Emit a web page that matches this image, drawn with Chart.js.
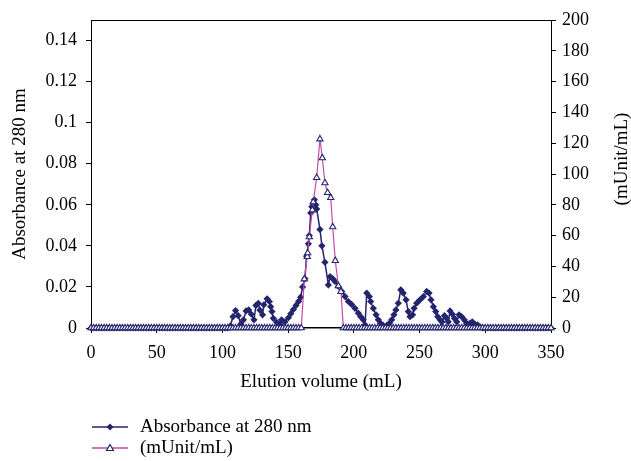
<!DOCTYPE html>
<html>
<head>
<meta charset="utf-8">
<script src="https://cdn.jsdelivr.net/npm/chart.js@4.4.1/dist/chart.umd.min.js"></script>
<style>
html, body { margin: 0; padding: 0; background: #fff; }
</style>
</head>
<body>
<canvas id="chart" width="631" height="461"></canvas>
<script>
// 흡광도 (280 nm) 시리즈
const absVolume = [
    0,2,4,6,8,10,12,14,16,18,20,22,24,26,28,30,32,34,36,38,40,42,44,46,48,50,52,54,56,58,60,62,64,66,68,70,72,74,76,78,80,82,84,86,88,90,92,94,96,98,100,102,104,
    106,108,110,112,114,116,118,120,122,124,125.5,127.3,128.5,130.5,131.5,134,135.7,136.7,137.7,138.7,141.3,143.8,145,147.6,
    150.2,152,154,156,158,159.5,161,162.8,164,165.4,166.1,167.2,168,169.2,170,171,171.7,174.2,175.7,178,180.6,181.9,183.9,185.7,188.2,190.8,
    193.3,195.8,198.3,200.9,203.4,205.2,207.2,208.5,209.8,211.8,212.8,214.8,216.9,218.6,220.4,222.4,225,227,228.8,230.5,232,233.8,235.7,237.6,239.7,
    241.4,242.7,244.7,245.8,247.8,250.3,252.9,255.4,257.2,258.7,260.5,262.3,263.8,265.6,267,268.9,270.6,271.8,273.2,275,276.5,278.3,280,282,284,285.8,288.3,290.1,292.2,294.2,296,
    298,300,302,304,306,308,310,312,314,316,318,320,322,324,326,328,330,332,334,336,338,340,342,344,346,348,350
];
const absValue = [
    0,0,0,0,0,0,0,0,0,0,0,0,0,0,0,0,0,0,0,0,0,0,0,0,0,0,0,0,0,0,0,0,0,0,0,0,0,0,0,0,0,0,0,0,0,0,0,0,0,0,0,0,0,
    0.001,0.0055,0.0085,0.006,0.002,0.004,0.0083,0.0088,0.0067,0.004,0.011,0.012,0.0087,0.0064,0.0113,0.0142,0.0129,0.0104,0.008,0.0047,0.0028,0.0018,0.004,0.003,
    0.005,0.007,0.009,0.011,0.013,0.015,0.02,0.024,0.035,0.041,0.045,0.056,0.059,0.061,0.0625,0.06,0.058,0.048,0.04,0.032,0.021,0.025,0.024,0.0227,0.0202,0.0178,
    0.0153,0.0129,0.0115,0.0096,0.0072,0.0055,0.004,0.0015,0.017,0.0153,0.0129,0.0096,0.0064,0.004,0.0023,0.0012,0.0012,0.0023,0.004,0.0064,0.0088,0.0121,0.0186,0.017,0.0137,
    0.008,0.0055,0.0064,0.0096,0.0121,0.0137,0.0153,0.0178,0.017,0.0137,0.0104,0.008,0.0055,0.004,0.003,0.006,0.0047,0.003,0.0083,0.0067,0.0047,0.003,0.0064,0.0055,0.004,0.0023,0.0023,0.003,0.0018,0.0015,0.0005,
    0,0,0,0,0,0,0,0,0,0,0,0,0,0,0,0,0,0,0,0,0,0,0,0,0,0,0
];

// 효소 활성 (mUnit/mL) 시리즈
const actVolume = [
    0,2,4,6,8,10,12,14,16,18,20,22,24,26,28,30,32,34,36,38,40,42,44,46,48,50,52,54,56,58,60,62,64,66,68,70,72,74,76,78,80,
    82,84,86,88,90,92,94,96,98,100,102,104,106,108,110,112,114,116,118,120,122,124,126,128,130,132,134,136,138,140,142,144,146,148,150,152,154,156,158,160,
    162.3,164.6,164.9,166.1,168.4,169.1,171.7,174.2,176,178,180,182.4,183.9,185.9,188.2,190.2,
    192,194,196,198,200,202,204,206,208,210,212,214,216,218,220,222,224,226,228,230,232,234,236,238,240,242,244,246,248,250,252,254,256,258,260,262,264,266,268,270,
    272,274,276,278,280,282,284,286,288,290,292,294,296,298,300,302,304,306,308,310,312,314,316,318,320,322,324,326,328,330,332,334,336,338,340,342,344,346,348,350
];
const actValue = [
    0,0,0,0,0,0,0,0,0,0,0,0,0,0,0,0,0,0,0,0,0,0,0,0,0,0,0,0,0,0,0,0,0,0,0,0,0,0,0,0,0,
    0,0,0,0,0,0,0,0,0,0,0,0,0,0,0,0,0,0,0,0,0,0,0,0,0,0,0,0,0,0,0,0,0,0,0,0,0,0,0,0,
    31.8,46.3,48.7,59.1,76.6,81.8,97.6,122.7,110.4,94.2,87.9,84.6,65.6,43.7,27.3,23.6,
    0,0,0,0,0,0,0,0,0,0,0,0,0,0,0,0,0,0,0,0,0,0,0,0,0,0,0,0,0,0,0,0,0,0,0,0,0,0,0,0,
    0,0,0,0,0,0,0,0,0,0,0,0,0,0,0,0,0,0,0,0,0,0,0,0,0,0,0,0,0,0,0,0,0,0,0,0,0,0,0,0
];

const xTicks = [0, 50, 100, 150, 200, 250, 300, 350];
const absTicks = [0, 0.02, 0.04, 0.06, 0.08, 0.1, 0.12, 0.14];
const actTicks = [0, 20, 40, 60, 80, 100, 120, 140, 160, 180, 200];

const LABELS = ['Absorbance at 280 nm', '(mUnit/mL)'];
const FONT = '"Liberation Serif", "DejaVu Serif", serif';
const NAVY = '#24246e';
const PINK = '#c84aa6';

function toPoints(xs, ys) {
    return xs.map((x, i) => ({ x: x, y: ys[i] }));
}

// 차트 테두리 위쪽 선 + 오른쪽 축 제목 + 범례
const decorPlugin = {
    id: 'decor',
    afterDraw(chart) {
        const ctx = chart.ctx;
        const a = chart.chartArea;
        ctx.save();
        ctx.strokeStyle = '#000';
        ctx.lineWidth = 1;
        ctx.beginPath();
        ctx.moveTo(a.left, a.top + 0.5);
        ctx.lineTo(a.right, a.top + 0.5);
        ctx.stroke();

        ctx.fillStyle = '#000';
        ctx.font = '19px ' + FONT;
        ctx.textAlign = 'center';
        ctx.textBaseline = 'middle';
        ctx.translate(622, 159);
        ctx.rotate(-Math.PI / 2);
        ctx.fillText(LABELS[1], 0, 0);
        ctx.restore();

        // 범례
        const rows = [
            { y: 427, color: NAVY, marker: 'diamond', text: LABELS[0] },
            { y: 448, color: PINK, marker: 'triangle', text: LABELS[1] }
        ];
        rows.forEach(r => {
            ctx.save();
            ctx.strokeStyle = r.color;
            ctx.lineWidth = 1.5;
            ctx.beginPath();
            ctx.moveTo(92, r.y);
            ctx.lineTo(128, r.y);
            ctx.stroke();
            const cx = 110, cy = r.y;
            if (r.marker === 'diamond') {
                ctx.fillStyle = NAVY;
                ctx.beginPath();
                ctx.moveTo(cx, cy - 3.5);
                ctx.lineTo(cx + 3.5, cy);
                ctx.lineTo(cx, cy + 3.5);
                ctx.lineTo(cx - 3.5, cy);
                ctx.closePath();
                ctx.fill();
            } else {
                ctx.fillStyle = '#fff';
                ctx.strokeStyle = NAVY;
                ctx.lineWidth = 1.2;
                ctx.beginPath();
                ctx.moveTo(cx, cy - 3.5);
                ctx.lineTo(cx + 3.5, cy + 2.5);
                ctx.lineTo(cx - 3.5, cy + 2.5);
                ctx.closePath();
                ctx.fill();
                ctx.stroke();
            }
            ctx.fillStyle = '#000';
            ctx.font = '19px ' + FONT;
            ctx.textAlign = 'left';
            ctx.textBaseline = 'middle';
            ctx.fillText(r.text, 140, r.y);
            ctx.restore();
        });
    }
};

const tickFont = { family: FONT, size: 18 };
const titleFont = { family: FONT, size: 19 };

new Chart(document.getElementById('chart'), {
    type: 'line',
    data: {
        datasets: [
            {
                label: LABELS[1],
                data: toPoints(actVolume, actValue),
                yAxisID: 'y1',
                borderColor: PINK,
                borderWidth: 1.2,
                pointStyle: 'triangle',
                pointRadius: 3.6,
                pointBorderWidth: 1.1,
                pointBackgroundColor: '#fff',
                pointBorderColor: NAVY,
                tension: 0,
                clip: false,
                order: 0
            },
            {
                label: LABELS[0],
                data: toPoints(absVolume, absValue),
                yAxisID: 'y',
                borderColor: NAVY,
                borderWidth: 1.5,
                pointStyle: 'rectRot',
                pointRadius: 3.6,
                pointBorderWidth: 0,
                pointBackgroundColor: NAVY,
                pointBorderColor: NAVY,
                tension: 0,
                clip: false,
                order: 1
            }
        ]
    },
    options: {
        responsive: false,
        devicePixelRatio: 1,
        animation: false,
        layout: { padding: { left: 0, right: 0, top: 20, bottom: 62 } },
        plugins: {
            legend: { display: false },
            tooltip: { enabled: false }
        },
        scales: {
            x: {
                type: 'linear',
                min: 0,
                max: 350,
                afterFit: s => { s.height = 71; },
                afterBuildTicks: s => { s.ticks = xTicks.map(v => ({ value: v })); },
                border: { color: '#000', width: 1.5 },
                grid: { drawOnChartArea: false, color: '#000', tickLength: 5 },
                ticks: { color: '#000', font: tickFont, padding: 9, maxRotation: 0 },
                title: { display: true, text: 'Elution volume (mL)', color: '#000', font: titleFont, padding: { top: 4, bottom: 6 } }
            },
            y: {
                position: 'left',
                min: 0,
                max: 0.15,
                afterFit: s => { s.width = 91; },
                afterBuildTicks: s => { s.ticks = absTicks.map(v => ({ value: v })); },
                border: { color: '#000', width: 1 },
                grid: { drawOnChartArea: false, color: '#000', tickLength: 5 },
                ticks: { color: '#000', font: tickFont, padding: 9, callback: v => String(+v.toFixed(2)) },
                title: { display: true, text: LABELS[0], color: '#000', font: titleFont, padding: { top: 9, bottom: 4 } }
            },
            y1: {
                position: 'right',
                min: 0,
                max: 200,
                afterFit: s => { s.width = 80; },
                afterBuildTicks: s => { s.ticks = actTicks.map(v => ({ value: v })); },
                border: { color: '#000', width: 1 },
                grid: { drawOnChartArea: false, color: '#000', tickLength: 5 },
                ticks: { color: '#000', font: tickFont, padding: 6 }
            }
        }
    },
    plugins: [decorPlugin]
});
</script>
</body>
</html>
